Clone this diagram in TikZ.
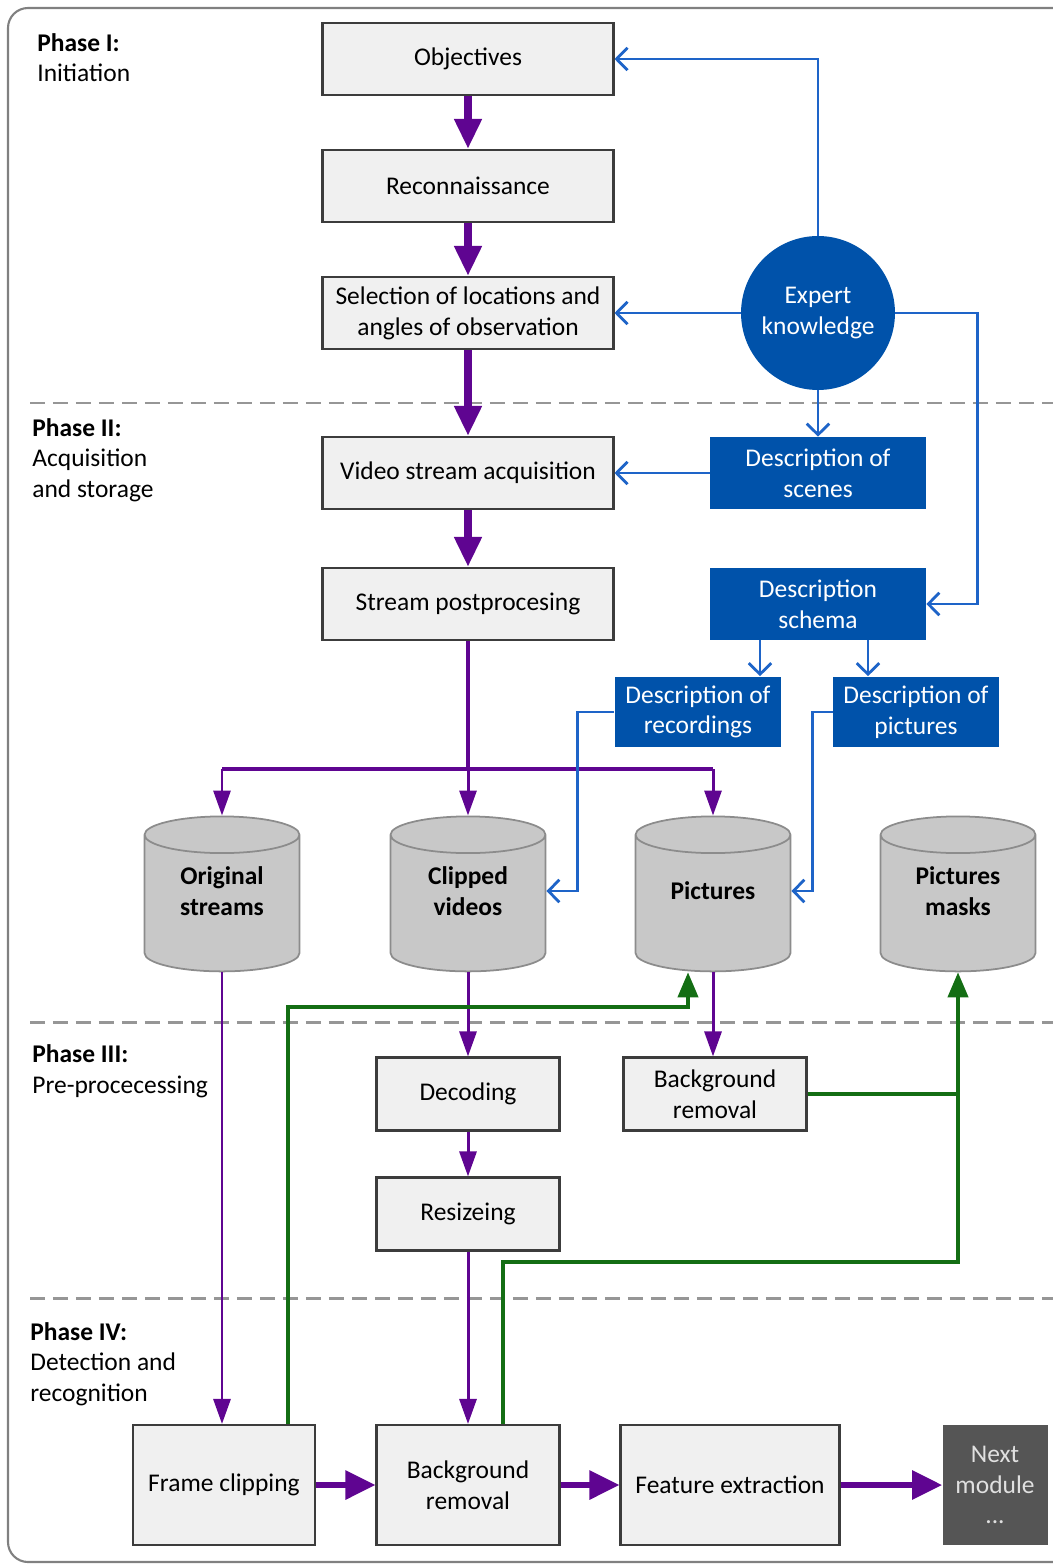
\documentclass[tikz,border=0pt]{standalone}
\usepackage{fontspec}
\setmainfont{Carlito}
\usetikzlibrary{
  arrows.meta,%
  shapes.geometric,%
  calc,%
  positioning
}
\definecolor{boxgray}{RGB}{240,240,240}
\definecolor{boxline}{RGB}{60,60,60}
\definecolor{kblue}{RGB}{0,82,170}
\definecolor{lblue}{RGB}{30,100,200}
\definecolor{flowpurple}{RGB}{95,5,145}
\definecolor{flowgreen}{RGB}{20,110,20}
\definecolor{dbgray}{RGB}{200,200,200}
\definecolor{dbline}{RGB}{140,140,140}
\definecolor{nextgray}{RGB}{85,85,85}
\definecolor{sepgray}{RGB}{150,150,150}
\tikzset{>=latex}
\tikzset{font=\fontsize{14.5}{17.5}\selectfont}
\tikzset{
  procbox/.style={draw=boxline, fill=boxgray, line width=1.2pt, align=center, inner sep=2pt},
  descbox/.style={fill=kblue, text=white, align=center, inner sep=2pt},
  dbase/.style={cylinder, shape border rotate=90, aspect=0.4, text width=1.6cm, draw=dbline, fill=dbgray,
    line width=1pt, minimum width=3.1cm, minimum height=3.1cm},
  dbtext/.style={align=center, inner sep=0pt, font=\fontsize{14.5}{17.5}\selectfont\bfseries},
  phasehead/.style={anchor=base west, inner sep=0pt, font=\fontsize{14.5}{17.5}\selectfont\bfseries},
  phasetext/.style={anchor=base west, inner sep=0pt},
  bigflow/.style={draw=flowpurple, line width=5pt, -{Triangle[length=0.6cm,width=0.52cm]}},
  flow/.style={draw=flowpurple, line width=1.7pt, -{Triangle[length=0.5cm,width=0.34cm]}},
  flowline/.style={draw=flowpurple, line width=2.2pt},
  sideflow/.style={draw=flowpurple, line width=3.4pt, -{Triangle[length=0.6cm,width=0.56cm]}},
  greenflow/.style={draw=flowgreen, line width=2.2pt, -{Triangle[length=0.5cm,width=0.4cm]}},
  greenline/.style={draw=flowgreen, line width=2.2pt},
  knowflow/.style={draw=lblue, line width=1.6pt, -{Straight Barb[length=0.22cm,width=0.45cm]}},
  sepline/.style={draw=sepgray, line width=1.7pt, dash pattern=on 0.3cm off 0.16cm}
}
\begin{document}
\begin{tikzpicture}[x=0.02cm, y=-0.02cm]
  \useasboundingbox (0,0) rectangle (1053,1567);
  \draw[draw=gray, line width=1.2pt, rounded corners=0.4cm] (8,8) rectangle (1090,1562);

  % phase separators
  \foreach \ypos in {403, 1022, 1298}
    \draw[sepline] (30,\ypos) -- (1053,\ypos);

  % phase labels
  \node[phasehead] (ph1) at (37,52) {Phase I:};
  \node[phasetext] (ph1a) at (37,82) {Initiation};
  \node[phasehead] (ph2) at (32,436) {Phase II:};
  \node[phasetext] (ph2a) at (32,466) {Acquisition};
  \node[phasetext] (ph2b) at (32,497) {and storage};
  \node[phasehead] (ph3) at (32,1062) {Phase III:};
  \node[phasetext] (ph3a) at (32,1093) {Pre-procecessing};
  \node[phasehead] (ph4) at (30,1340) {Phase IV:};
  \node[phasetext] (ph4a) at (30,1370) {Detection and};
  \node[phasetext] (ph4b) at (30,1401) {recognition};

  % main column
  \node[procbox, minimum width=5.82cm, minimum height=1.44cm] (obj) at (468,59) {Objectives};
  \node[procbox, minimum width=5.82cm, minimum height=1.44cm] (recon) at (468,186) {Reconnaissance};
  \node[procbox, minimum width=5.82cm, minimum height=1.44cm] (select) at (468,313) {Selection of locations and\\angles of observation};
  \node[procbox, minimum width=5.82cm, minimum height=1.44cm] (acq) at (468,473) {Video stream acquisition};
  \node[procbox, minimum width=5.82cm, minimum height=1.44cm] (post) at (468,604) {Stream postprocesing};

  % knowledge
  \node[circle, fill=kblue, text=white, align=center, minimum size=3.08cm] (expert) at (818,313) {Expert\\knowledge};
  \node[descbox, minimum width=4.32cm, minimum height=1.44cm] (scenes) at (818,473) {Description of\\scenes};
  \node[descbox, minimum width=4.32cm, minimum height=1.44cm] (schema) at (818,604) {Description\\schema};
  \node[descbox, minimum width=3.34cm, minimum height=1.42cm] (recdesc) at (698,712) {Description of\\recordings};
  \node[descbox, minimum width=3.32cm, minimum height=1.42cm] (picdesc) at (916,712) {Description of\\pictures};

  % storage
  \node[dbase] (orig) at (222,907) {};
  \node[dbase] (clipped) at (468,907) {};
  \node[dbase] (pics) at (713,907) {};
  \node[dbase] (masks) at (958,907) {};
  \node[dbtext] (origtxt) at (222,891) {Original\\streams};
  \node[dbtext] (cliptxt) at (468,891) {Clipped\\videos};
  \node[dbtext] (picstxt) at (713,891) {Pictures};
  \node[dbtext] (maskstxt) at (958,891) {Pictures\\masks};

  % pre-processing
  \node[procbox, minimum width=3.66cm, minimum height=1.46cm] (decode) at (468,1094) {Decoding};
  \node[procbox, minimum width=3.66cm, minimum height=1.46cm] (resize) at (468,1214) {Resizeing};
  \node[procbox, minimum width=3.66cm, minimum height=1.46cm] (bgpre) at (715,1094) {Background\\removal};

  % detection
  \node[procbox, minimum width=3.64cm, minimum height=2.4cm] (frame) at (224,1485) {Frame clipping};
  \node[procbox, minimum width=3.66cm, minimum height=2.4cm] (bgrem) at (468,1485) {Background\\removal};
  \node[procbox, minimum width=4.38cm, minimum height=2.4cm] (feat) at (730,1485) {Feature extraction};
  \node[fill=nextgray, text=black!12, align=center, minimum width=2.1cm, minimum height=2.4cm] (next) at (995,1485) {Next\\module\\...};

  % purple flow
  \draw[bigflow] (obj) -- (recon);
  \draw[bigflow] (recon) -- (select);
  \draw[bigflow] (select) -- (acq);
  \draw[bigflow] (acq) -- (post);
  \coordinate (split) at ($(post.south)+(0,128)$);
  \draw[flowline] (post.south) -- (split);
  \draw[flowline] (split -| orig.north) -- (split -| pics.north);
  \foreach \db in {orig, clipped, pics}
    \draw[flow] (split -| \db.north) -- (\db.north);
  \draw[flow] (orig.south) -- (frame.north -| orig.south);
  \draw[flow] (clipped.south) -- (decode.north);
  \draw[flow] (pics.south) -- (bgpre.north -| pics.south);
  \draw[flow] (decode) -- (resize);
  \draw[flow] (resize) -- (bgrem);
  \draw[sideflow] (frame) -- (bgrem);
  \draw[sideflow] (bgrem) -- (feat);
  \draw[sideflow] (feat) -- (next);

  % green flow
  \coordinate (g1) at ($(frame.north east)+(-28,0)$);
  \coordinate (g2) at ($(pics.south)+(-25,0)$);
  \draw[greenflow] (g1) |- (g2 |- 0,1007) -- (g2);
  \coordinate (g3) at ($(bgrem.north)+(35,0)$);
  \draw[greenline] (g3) |- (masks.south |- 0,1262) -- (masks.south |- bgpre.east);
  \draw[greenflow] (bgpre.east) -| (masks.south);

  % knowledge flow
  \draw[knowflow] (expert.north) |- (obj.east);
  \draw[knowflow] (expert.west) -- (select.east);
  \draw[knowflow] (expert.south) -- (scenes.north);
  \draw[knowflow] (expert.east) -- ++(82,0) |- (schema.east);
  \draw[knowflow] (scenes.west) -- (acq.east);
  \coordinate (s1) at ($(schema.south)+(-58,0)$);
  \coordinate (s2) at ($(schema.south)+(50,0)$);
  \draw[knowflow] (s1) -- (s1 |- recdesc.north);
  \draw[knowflow] (s2) -- (s2 |- picdesc.north);
  \draw[knowflow] (recdesc.west) -- ++(-37,0) |- (origtxt -| clipped.east);
  \draw[knowflow] (picdesc.west) -- ++(-20,0) |- (picstxt -| pics.east);
\end{tikzpicture}
\end{document}
